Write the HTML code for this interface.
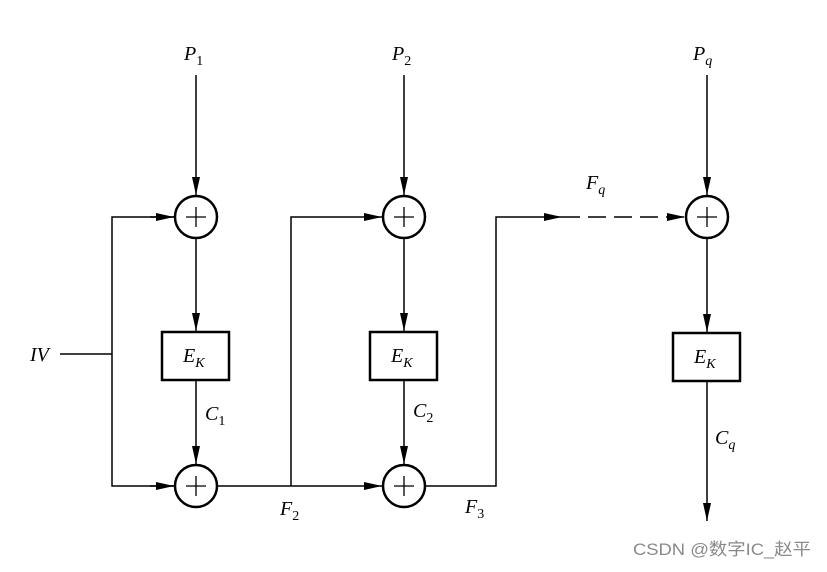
<!DOCTYPE html>
<html><head><meta charset="utf-8"><style>
body{margin:0;background:#fff;width:827px;height:567px;overflow:hidden}
text{font-family:"Liberation Serif",serif;font-style:italic;font-size:20px;fill:#000}
.s{font-size:14px;font-style:normal}
.si{font-size:14px}
</style></head><body>
<svg width="827" height="567" viewBox="0 0 827 567" xmlns="http://www.w3.org/2000/svg">
<defs><marker id="a" markerWidth="18" markerHeight="8" refX="18" refY="4" orient="auto" markerUnits="userSpaceOnUse"><path d="M0,0 L18,4 L0,8 z" fill="#000"/></marker></defs>
<g stroke="#000" stroke-width="1.5" fill="none">
<line x1="196" y1="75" x2="196" y2="195" marker-end="url(#a)"/>
<line x1="196" y1="238" x2="196" y2="331" marker-end="url(#a)"/>
<line x1="196" y1="381" x2="196" y2="464" marker-end="url(#a)"/>
<line x1="404" y1="75" x2="404" y2="195" marker-end="url(#a)"/>
<line x1="404" y1="238" x2="404" y2="331" marker-end="url(#a)"/>
<line x1="404" y1="381" x2="404" y2="464" marker-end="url(#a)"/>
<line x1="707" y1="75" x2="707" y2="195" marker-end="url(#a)"/>
<line x1="707" y1="238" x2="707" y2="332" marker-end="url(#a)"/>
<line x1="707" y1="382" x2="707" y2="521" marker-end="url(#a)"/>
<line x1="60" y1="354" x2="112" y2="354"/>
<polyline points="174,217 112,217 112,486 174,486" />
<line x1="150" y1="217" x2="174" y2="217" marker-end="url(#a)"/>
<line x1="150" y1="486" x2="174" y2="486" marker-end="url(#a)"/>
<line x1="217" y1="486" x2="382" y2="486" marker-end="url(#a)"/>
<polyline points="291,486 291,217 382,217" marker-end="url(#a)"/>
<polyline points="425,486 496,486 496,217 562,217" marker-end="url(#a)"/>
<line x1="562" y1="217" x2="685" y2="217" stroke-dasharray="18,8" marker-end="url(#a)"/>
</g>
<g stroke="#000" stroke-width="2.5" fill="#fff">
<circle cx="196" cy="217" r="21"/><circle cx="196" cy="486" r="21"/>
<circle cx="404" cy="217" r="21"/><circle cx="404" cy="486" r="21"/>
<circle cx="707" cy="217" r="21"/>
<rect x="162" y="332" width="67" height="48"/>
<rect x="370" y="332" width="67" height="48"/>
<rect x="673" y="333" width="67" height="48"/>
</g>
<g stroke="#000" stroke-width="1.3">
<path d="M186 217h20M196 207v20M186 486h20M196 476v20M394 217h20M404 207v20M394 486h20M404 476v20M697 217h20M707 207v20"/>
</g>
<text x="184" y="60">P<tspan class="s" dy="5">1</tspan></text>
<text x="392" y="60">P<tspan class="s" dy="5">2</tspan></text>
<text x="693" y="60">P<tspan class="si" dy="5">q</tspan></text>
<text x="586" y="189">F<tspan class="si" dy="5">q</tspan></text>
<text x="183" y="362">E<tspan class="si" dy="5">K</tspan></text>
<text x="391" y="362">E<tspan class="si" dy="5">K</tspan></text>
<text x="694" y="363">E<tspan class="si" dy="5">K</tspan></text>
<text x="205" y="420">C<tspan class="s" dy="5">1</tspan></text>
<text x="413" y="417">C<tspan class="s" dy="5">2</tspan></text>
<text x="715" y="444">C<tspan class="si" dy="5">q</tspan></text>
<text x="280" y="515">F<tspan class="s" dy="5">2</tspan></text>
<text x="465" y="513">F<tspan class="s" dy="5">3</tspan></text>
<text x="30" y="361">IV</text>
<text x="633" y="555" textLength="178" lengthAdjust="spacingAndGlyphs" style="font-family:'Liberation Sans','Noto Sans CJK SC',sans-serif;font-style:normal;font-size:17px;fill:#8a8a8a">CSDN @数字IC_赵平</text>
</svg>
</body></html>
